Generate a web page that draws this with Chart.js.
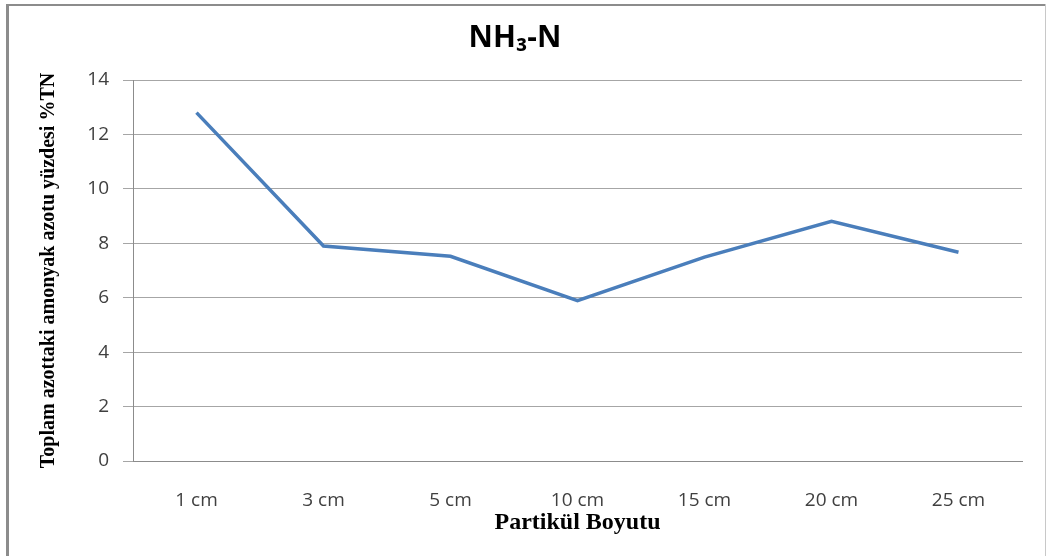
<!DOCTYPE html>
<html>
<head>
<meta charset="utf-8">
<script src="https://cdn.jsdelivr.net/npm/chart.js@4/dist/chart.umd.min.js"></script>
<style>
  body { margin: 0; background: #fff; }
  #wrap { width: 1047px; height: 556px; }
</style>
</head>
<body>
<div id="wrap"><canvas id="nh3Chart" width="1047" height="556"></canvas></div>
<script>
// values
const categories = ['1 cm', '3 cm', '5 cm', '10 cm', '15 cm', '20 cm', '25 cm'];
const nh3Values = [12.8, 7.9, 7.52, 5.89, 7.49, 8.81, 7.67];
const yTicks = [0, 2, 4, 6, 8, 10, 12, 14];

const chartTitle = 'NH₃-N';
const yTitle = 'Toplam azottaki amonyak azotu yüzdesi %TN';
const xTitle = 'Partikül Boyutu';

// white background + the grey frame round the chart
const framePlugin = {
  id: 'frame',
  beforeDraw(chart) {
    const c = chart.ctx;
    c.save();
    c.fillStyle = '#fff';
    c.fillRect(0, 0, chart.width, chart.height);
    c.strokeStyle = '#8c8c8c';
    c.lineWidth = 2;
    c.beginPath();
    c.moveTo(6, 5);
    c.lineTo(1046, 5);
    c.stroke();
    c.lineWidth = 3;
    c.beginPath();
    c.moveTo(7.5, 4);
    c.lineTo(7.5, 556);
    c.stroke();
    c.strokeStyle = '#c8c8c8';
    c.lineWidth = 1;
    c.beginPath();
    c.moveTo(1045.5, 4);
    c.lineTo(1045.5, 556);
    c.stroke();
    c.restore();
  }
};

const ctx = document.getElementById('nh3Chart').getContext('2d');
new Chart(ctx, {
  type: 'line',
  data: {
    labels: categories,
    datasets: [{
      label: chartTitle,
      data: nh3Values,
      borderColor: '#4a7ebb',
      borderWidth: 3.5,
      pointRadius: 0,
      tension: 0,
      fill: false
    }]
  },
  options: {
    responsive: false,
    animation: false,
    layout: { padding: { left: 8, right: 25, top: 0, bottom: 0 } },
    plugins: {
      legend: { display: false },
      tooltip: { enabled: false },
      title: {
        display: true,
        text: chartTitle,
        color: '#000',
        font: { family: '"Open Sans"', size: 30, weight: 'bold' },
        padding: { top: 20, bottom: 24 }
      }
    },
    scales: {
      x: {
        offset: true,
        grid: { display: false },
        border: { display: true, color: '#8c8c8c', width: 1 },
        ticks: {
          color: '#404040',
          padding: 20,
          maxRotation: 0,
          font: { family: '"Open Sans"', size: 19 }
        },
        title: {
          display: true,
          text: xTitle,
          color: '#000',
          font: { family: '"Liberation Serif"', size: 24, weight: 'bold' },
          padding: { top: 0, bottom: 19 }
        },
        afterFit: (s) => { s.height = 95; }
      },
      y: {
        min: 0,
        max: 14,
        afterBuildTicks: (s) => { s.ticks = yTicks.map(v => ({ value: v })); },
        grid: { color: '#a6a6a6', lineWidth: 1, tickLength: 10 },
        border: { color: '#8c8c8c', width: 1 },
        ticks: {
          color: '#404040',
          padding: 14,
          font: { family: '"Open Sans"', size: 19 }
        },
        title: {
          display: true,
          text: yTitle,
          color: '#000',
          font: { family: '"Liberation Serif"', size: 20, weight: 'bold' },
          padding: { top: 29, bottom: 0 }
        },
        afterFit: (s) => { s.width = 125; }
      }
    }
  },
  plugins: [framePlugin]
});
</script>
</body>
</html>
